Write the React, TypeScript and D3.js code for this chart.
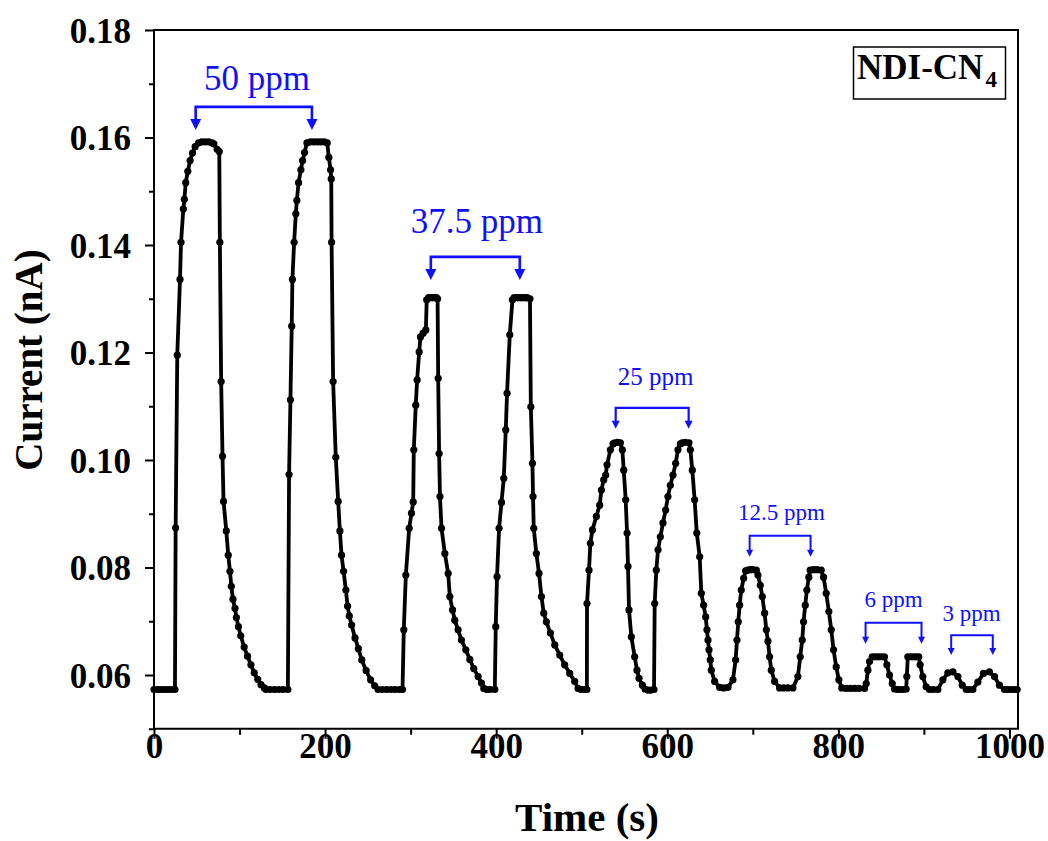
import React, { useEffect, useRef } from 'react';
import * as d3 from 'd3';

// ---------- data ----------
const timeS: number[] = [
  0, 4, 8, 12, 16, 20, 24.5, 25.3, 27.2, 30.4, 31.6, 34.3, 35.5, 37.1, 39.5, 42.2, 45.0, 48.1, 52.1, 56, 60, 64, 68, 70,
  73.8, 76.3, 77, 78.5, 80.1, 81.3, 84.5, 86.8, 88.8, 90.4, 92.3, 94.7, 96.3, 98.7, 101.4, 105.4, 109.3, 113.3, 117.2,
  121.2, 125.1, 129.0, 131, 136, 141, 146, 151, 156.5,
  157.9, 159.5, 161.0, 161.8, 163.8, 165.8, 167.0, 169.0, 171.7, 173.7, 176.0, 178.8, 183, 187, 191, 195, 199, 202.5,
  204.4, 206.4, 207.2, 207.6, 209.4, 212.5, 215.3, 217.3, 219.2, 221.6, 224.3, 226.3, 228.3, 231.0, 235.0, 238.9, 242.9,
  248.0, 253.2, 258.0, 262.0, 267, 272, 277, 282, 287, 290.5,
  292.0, 294.4, 298.3, 301.0, 303.0, 303.7, 306.0, 307.6, 310.0, 311.5, 314.6, 317.8, 318.8, 321, 324, 327, 330, 331.5,
  332.2, 333.3, 334.3, 336.1, 340.0, 343.9, 345.8, 349.0, 351.6, 355.5, 359.4, 364.5, 369.2, 373.8, 378.9, 382.8, 385.5,
  389, 393, 398.4,
  399.5, 401.0, 403.4, 406.2, 408.9, 411.2, 412.7, 415.9, 419.0, 421, 424, 427, 430, 433, 436, 439.5, 440.5, 442.4, 443.1,
  443.9, 447.0, 450.1, 452.9, 455.6, 458.7, 463.4, 468.5, 474.3, 480.1, 486.0, 491.8, 495.7, 499, 503, 506,
  506.2, 508.5, 510.1, 512.5, 517.1, 521.0, 523.0, 525.7, 528.0, 529.6, 533.5, 536.6, 538.6, 542, 545.2, 547.5, 549.1,
  551.4, 553.0, 554.1, 555.3, 558.0, 561.9, 564.6, 567.0, 570.9, 574, 577.5, 581, 584.5,
  585.3, 587.2, 589.2, 591.9, 595.0, 598.1, 600.8, 603.6, 606.7, 609.8, 612.5, 615.3, 617.5, 621, 625.4, 627.0, 629.3,
  632.0, 634.5, 637.9, 639.8, 642.5, 644.9, 646.4, 647.6, 648.8, 650.3, 651.5, 655.4, 661.2, 666, 671.0, 676.8,
  679.9, 681.5, 683.0, 684.6, 686.5, 689.3, 691.6, 694, 697, 700, 704.1, 706.0, 708.8, 711.1, 713.8, 715.8, 717.7, 719.6,
  721.6, 725.5, 731.3, 736, 741, 746.9, 752.7,
  755.4, 757.8, 759.3, 761.3, 763.2, 765.5, 767.1, 771, 775, 779.9, 782.7, 785.8, 788.9, 791.7, 794.4, 797.5, 800.6, 804,
  809, 814, 819, 824, 830.6,
  832.6, 834.5, 836.4, 839.6, 843, 846.5, 850, 853.9, 856.7, 859.8, 863.0, 865.7, 869, 872, 876, 879.3,
  880.0, 881.2, 884.5, 888, 891, 894, 895.6, 898.7, 902.6, 906.5, 911, 916.3,
  922.2, 928.0, 933.9, 939.7, 944.8, 949.5, 953, 957.2,
  963.1, 969.6, 976.6, 982.5, 988.3, 994.2, 998, 1002, 1006, 1009,
];

const currentNA: number[] = [
  0.0573, 0.0573, 0.0573, 0.0573, 0.0573, 0.0573, 0.0573, 0.0874, 0.1195, 0.1336, 0.1405, 0.1467, 0.1485, 0.1516, 0.1537,
  0.1557, 0.1571, 0.1583, 0.1590, 0.1592, 0.1592, 0.1592, 0.1590, 0.1588,
  0.1578, 0.1574, 0.1405, 0.1146, 0.1007, 0.0923, 0.0868, 0.0823, 0.0793, 0.0765, 0.0741, 0.0724, 0.0707, 0.0690, 0.0673,
  0.0652, 0.0635, 0.0619, 0.0604, 0.0592, 0.0582, 0.0576, 0.0573, 0.0573, 0.0573, 0.0573, 0.0573, 0.0573,
  0.0973, 0.1112, 0.1249, 0.1336, 0.1405, 0.1458, 0.1483, 0.1516, 0.1540, 0.1557, 0.1572, 0.1590, 0.1592, 0.1592, 0.1592,
  0.1592, 0.1592, 0.1590,
  0.1563, 0.1540, 0.1523, 0.1405, 0.1146, 0.1005, 0.0923, 0.0868, 0.0823, 0.0793, 0.0758, 0.0728, 0.0710, 0.0693, 0.0669,
  0.0649, 0.0628, 0.0608, 0.0591, 0.0580, 0.0573, 0.0573, 0.0573, 0.0573, 0.0573, 0.0573, 0.0573,
  0.0684, 0.0786, 0.0873, 0.0901, 0.0922, 0.1019, 0.1102, 0.1149, 0.1201, 0.1229, 0.1236, 0.1242, 0.1298, 0.1302, 0.1302,
  0.1302, 0.1302, 0.1300,
  0.1152, 0.1012, 0.0932, 0.0873, 0.0826, 0.0789, 0.0746, 0.0721, 0.0702, 0.0684, 0.0665, 0.0647, 0.0629, 0.0612, 0.0597,
  0.0585, 0.0575, 0.0573, 0.0573, 0.0573,
  0.0690, 0.0783, 0.0873, 0.0921, 0.0966, 0.1056, 0.1124, 0.1233, 0.1298, 0.1302, 0.1302, 0.1302, 0.1302, 0.1302, 0.1302,
  0.1300, 0.1099, 0.0994, 0.0932,
  0.0873, 0.0826, 0.0789, 0.0746, 0.0715, 0.0699, 0.0678, 0.0656, 0.0637, 0.0619, 0.0603, 0.0588, 0.0575, 0.0573, 0.0573,
  0.0573,
  0.0733, 0.0795, 0.0845, 0.0870, 0.0895, 0.0916, 0.0944, 0.0963, 0.0972, 0.0991, 0.1019, 0.1030, 0.1032, 0.1033, 0.1032,
  0.1019, 0.0981,
  0.0926, 0.0864, 0.0802, 0.0721, 0.0671, 0.0634, 0.0609, 0.0594, 0.0581, 0.0574, 0.0572, 0.0572, 0.0573,
  0.0733, 0.0795, 0.0833, 0.0857, 0.0883, 0.0907, 0.0932, 0.0953, 0.0972, 0.0994, 0.1019, 0.1030, 0.1032, 0.1033, 0.1032,
  0.1019, 0.0981,
  0.0926, 0.0864, 0.0820, 0.0752, 0.0730, 0.0708, 0.0684, 0.0665, 0.0647, 0.0628, 0.0609, 0.0588, 0.0577, 0.0576, 0.0577,
  0.0591,
  0.0628, 0.0665, 0.0699, 0.0730, 0.0758, 0.0780, 0.0794, 0.0795, 0.0796, 0.0796, 0.0795, 0.0786, 0.0767, 0.0746, 0.0715,
  0.0684, 0.0663, 0.0634,
  0.0609, 0.0588, 0.0576, 0.0576, 0.0576, 0.0576, 0.0597,
  0.0634, 0.0665, 0.0699, 0.0730, 0.0758, 0.0782, 0.0795, 0.0796, 0.0796, 0.0795, 0.0782, 0.0752, 0.0718, 0.0684, 0.0647,
  0.0615, 0.0591, 0.0576,
  0.0575, 0.0575, 0.0575, 0.0575, 0.0575,
  0.0584, 0.0609, 0.0625, 0.0634, 0.0634, 0.0634, 0.0634, 0.0634, 0.0619, 0.0600, 0.0584, 0.0574, 0.0573, 0.0573, 0.0573,
  0.0574,
  0.0597, 0.0634, 0.0634, 0.0634, 0.0634, 0.0634, 0.0619, 0.0597, 0.0578, 0.0573, 0.0573, 0.0573,
  0.0591, 0.0604, 0.0606, 0.0597, 0.0581, 0.0573, 0.0573, 0.0573,
  0.0587, 0.0603, 0.0606, 0.0597, 0.0581, 0.0573, 0.0573, 0.0573, 0.0573, 0.0573,
];

const xMajorTicks = [0, 200, 400, 600, 800, 1000];
const xMinorTicks = [100, 300, 500, 700, 900];
const yMajorTicks = [0.06, 0.08, 0.1, 0.12, 0.14, 0.16, 0.18];
const yMinorTicks = [0.05, 0.07, 0.09, 0.11, 0.13, 0.15, 0.17];

// annotations (concentration brackets), in data units
const annoLabels = ['50 ppm', '37.5 ppm', '25 ppm', '12.5 ppm', '6 ppm', '3 ppm'];
const annoStart = [48.7, 323.6, 539.7, 696.3, 831.8, 931.9];
const annoEnd = [184.6, 427.6, 625.0, 767.5, 897.2, 980.5];
const annoTextT = [120.3, 377.3, 586.4, 733.6, 864.5, 955.6];
const annoLineLevel = [0.1657, 0.1378, 0.1097, 0.0859, 0.0697, 0.0674];
const annoTipLevel = [0.1614, 0.1335, 0.1058, 0.082, 0.0658, 0.0637];
const annoTextLevel = [0.1688, 0.1422, 0.114, 0.0888, 0.0727, 0.0701];

const titleMain = 'NDI-CN';
const titleSub = '4';
const xLabel = 'Time (s)';
const yLabel = 'Current (nA)';

// ---------- styles ----------
const SERIF = "'Times New Roman', 'Liberation Serif', serif";
const BLUE = '#1010ff';
const annoStyles = [
  { font: 35, stroke: 2.6, head: 11 },
  { font: 35, stroke: 2.6, head: 11 },
  { font: 25, stroke: 2.2, head: 8 },
  { font: 23, stroke: 2.0, head: 7 },
  { font: 23, stroke: 2.0, head: 7 },
  { font: 23, stroke: 2.0, head: 7 },
];

const W = 1048;
const H = 841;
const M = { left: 154, right: 1018, top: 30, bottom: 728.75 };

export default function App() {
  const gx = useRef<SVGGElement>(null);
  const gxm = useRef<SVGGElement>(null);
  const gy = useRef<SVGGElement>(null);
  const gym = useRef<SVGGElement>(null);

  const x = d3.scaleLinear().domain([0, 1010]).range([M.left, M.right]);
  const y = d3.scaleLinear().domain([0.05, 0.18]).range([M.bottom, M.top]);

  const pts: [number, number][] = timeS.map((t, i) => [t, currentNA[i]]);
  const line = d3
    .line<[number, number]>()
    .x((d) => x(d[0]))
    .y((d) => y(d[1]));

  useEffect(() => {
    const ax = d3.select(gx.current!);
    ax.call(d3.axisBottom(x).tickValues(xMajorTicks).tickSize(10).tickFormat(d3.format('d')) as any);
    ax.select('.domain').remove();
    ax.selectAll('line').attr('stroke', '#000').attr('stroke-width', 2);
    ax.selectAll('text')
      .attr('y', 29)
      .attr('dy', 0)
      .attr('fill', '#000')
      .style('font-family', SERIF)
      .style('font-weight', 'bold')
      .style('font-size', '35px');

    const axm = d3.select(gxm.current!);
    axm.call(d3.axisBottom(x).tickValues(xMinorTicks).tickSize(6).tickFormat(() => '') as any);
    axm.select('.domain').remove();
    axm.selectAll('line').attr('stroke', '#000').attr('stroke-width', 2);

    const ay = d3.select(gy.current!);
    ay.call(d3.axisLeft(y).tickValues(yMajorTicks).tickSize(9).tickPadding(14).tickFormat(d3.format('.2f')) as any);
    ay.select('.domain').remove();
    ay.selectAll('line').attr('stroke', '#000').attr('stroke-width', 2);
    ay.selectAll('text')
      .attr('dy', '0.35em')
      .attr('fill', '#000')
      .style('font-family', SERIF)
      .style('font-weight', 'bold')
      .style('font-size', '35px');

    const aym = d3.select(gym.current!);
    aym.call(d3.axisLeft(y).tickValues(yMinorTicks).tickSize(5).tickFormat(() => '') as any);
    aym.select('.domain').remove();
    aym.selectAll('line').attr('stroke', '#000').attr('stroke-width', 2);
  }, []);

  return (
    <svg
      width={W}
      height={H}
      style={{ position: 'absolute', left: 0, top: 0, background: '#fff' }}
      xmlns="http://www.w3.org/2000/svg"
    >
      <rect x={0} y={0} width={W} height={H} fill="#fff" />
      {/* data */}
      <path d={line(pts) || ''} fill="none" stroke="#000" strokeWidth={3.8} strokeLinejoin="round" />
      {pts.map((d, i) => (
        <circle key={i} cx={x(d[0])} cy={y(d[1])} r={3.6} fill="#000" />
      ))}

      {/* frame */}
      <rect
        x={M.left}
        y={M.top}
        width={M.right - M.left}
        height={M.bottom - M.top}
        fill="none"
        stroke="#000"
        strokeWidth={2}
      />
      <g ref={gx} transform={`translate(0,${M.bottom})`} />
      <g ref={gxm} transform={`translate(0,${M.bottom})`} />
      <g ref={gy} transform={`translate(${M.left},0)`} />
      <g ref={gym} transform={`translate(${M.left},0)`} />

      {/* axis titles */}
      <text
        x={587}
        y={831}
        textAnchor="middle"
        fontFamily={SERIF}
        fontWeight="bold"
        fontSize={41}
        fill="#000"
      >
        {xLabel}
      </text>
      <text
        transform={`translate(42,${360}) rotate(-90)`}
        textAnchor="middle"
        fontFamily={SERIF}
        fontWeight="bold"
        fontSize={39}
        fill="#000"
      >
        {yLabel}
      </text>

      {/* title box */}
      <rect x={853.5} y={47} width={152} height={52} fill="#fff" stroke="#000" strokeWidth={1.5} />
      <text x={857} y={78.5} fontFamily={SERIF} fontWeight="bold" fontSize={35} fill="#000">
        {titleMain}
        <tspan fontSize={23} dx={2} dy={8}>
          {titleSub}
        </tspan>
      </text>

      {/* annotations */}
      {annoLabels.map((lab, i) => {
        const s = annoStyles[i];
        const x1 = x(annoStart[i]);
        const x2 = x(annoEnd[i]);
        const yl = y(annoLineLevel[i]);
        const yt = y(annoTipLevel[i]);
        const hw = s.head / 2;
        return (
          <g key={lab}>
            <path
              d={`M${x1},${yt - s.head + 1}V${yl}H${x2}V${yt - s.head + 1}`}
              fill="none"
              stroke={BLUE}
              strokeWidth={s.stroke}
            />
            <path d={`M${x1 - hw},${yt - s.head}L${x1 + hw},${yt - s.head}L${x1},${yt}Z`} fill={BLUE} />
            <path d={`M${x2 - hw},${yt - s.head}L${x2 + hw},${yt - s.head}L${x2},${yt}Z`} fill={BLUE} />
            <text
              x={x(annoTextT[i])}
              y={y(annoTextLevel[i])}
              textAnchor="middle"
              fontFamily={SERIF}
              fontSize={s.font}
              fill={BLUE}
            >
              {lab}
            </text>
          </g>
        );
      })}
    </svg>
  );
}
